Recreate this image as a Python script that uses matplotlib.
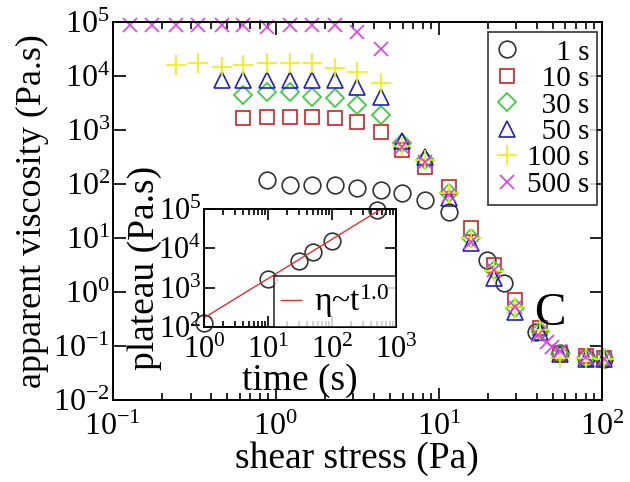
import matplotlib
matplotlib.use('Agg')
from matplotlib import pyplot as plt
import numpy as np

plt.rcParams['font.family'] = ['Liberation Serif', 'DejaVu Serif']
plt.rcParams['mathtext.fontset'] = 'custom'
plt.rcParams['mathtext.rm'] = 'Liberation Serif'
plt.rcParams['mathtext.it'] = 'Liberation Serif:italic'
plt.rcParams['mathtext.default'] = 'regular'

# shear stress (Pa) and apparent viscosity (Pa.s) for each waiting time
x_1s = [0.881, 1.22, 1.66, 2.31, 3.15, 4.41, 5.97, 8.27, 11.5, 19.9, 25.3, 39.3, 55.8, 79.6, 104]
y_1s = [119, 96, 96, 96, 83, 77, 68, 50.6, 30.3, 3.9, 1.47, 0.18, 0.075, 0.06, 0.058]

x_10s = [0.632, 0.881, 1.22, 1.66, 2.31, 3.15, 4.41, 5.97, 8.27, 11.5, 15.8, 22.0, 29.6, 42.1, 55.8, 79.6, 104]
y_10s = [1660, 1760, 1760, 1760, 1660, 1390, 931, 426, 210, 89, 15.3, 3.16, 0.7, 0.22, 0.075, 0.065, 0.06]

x_30s = [0.632, 0.881, 1.22, 1.66, 2.31, 3.15, 4.41, 5.97, 8.27, 11.5, 15.8, 22.0, 29.6, 42.1, 55.8, 79.6, 104]
y_30s = [4450, 5120, 5120, 4140, 3860, 2900, 1900, 570, 280, 68, 10, 2.55, 0.5, 0.19, 0.07, 0.06, 0.06]

x_50s = [0.466, 0.632, 0.881, 1.22, 1.66, 2.31, 3.15, 4.41, 5.97, 8.27, 11.5, 15.8, 22.0, 29.6, 42.1, 55.8, 79.6, 104]
y_50s = [8430, 8430, 8430, 8430, 8430, 8430, 6340, 4140, 620, 315, 55, 8, 1.8, 0.43, 0.18, 0.07, 0.058, 0.058]

x_100s = [0.244, 0.334, 0.466, 0.632, 0.881, 1.22, 1.66, 2.31, 3.15, 4.41, 5.97, 8.27, 11.5, 15.8, 22.0, 29.6, 42.1, 55.8, 79.6, 104]
y_100s = [16000, 17200, 14900, 16000, 17200, 17200, 17200, 13900, 12000, 7330, 500, 280, 68, 10, 2.5, 0.53, 0.2, 0.06, 0.06, 0.058]

x_500s = [0.127, 0.175, 0.244, 0.334, 0.466, 0.632, 0.881, 1.22, 1.66, 2.31, 3.15, 4.41, 5.97, 8.27,
          11.5, 15.8, 22.0, 29.6, 40.9, 46.5, 49.9, 55.8, 79.6, 104]
y_500s = [88000, 88000, 88000, 88000, 88000, 88000, 82000, 88000, 88000, 88000, 66000, 31600, 490, 260,
          62, 8.5, 2.55, 0.53, 0.16, 0.12, 0.096, 0.08, 0.062, 0.058]

# inset: plateau viscosity vs waiting time
t_wait = [1, 10, 30, 50, 100, 500]
plateau = [125, 1700, 4900, 8300, 15000, 94000]
fit_t = [1, 560]
fit_coef = 170

fig = plt.figure(figsize=(6.3, 4.82), dpi=100)
ax = fig.add_axes([0.179, 0.170, 0.776, 0.784])

series = [
    (x_1s, y_1s, 'o', '#333333', 'none', 12, '\u2007\u20071 s'),
    (x_10s, y_10s, 's', '#d02020', 'none', 10.5, '\u200710 s'),
    (x_30s, y_30s, 'D', '#30d030', 'none', 9, '\u200730 s'),
    (x_50s, y_50s, '^', '#2020c0', 'none', 11, '\u200750 s'),
    (x_100s, y_100s, '+', '#f0f000', None, 15, '100 s'),
    (x_500s, y_500s, 'x', '#e040e0', None, 10, '500 s'),
]
for xs, ys, m, c, fc, ms, lab in series:
    if fc is None:
        ax.plot(xs, ys, ls='none', marker=m, color=c, ms=ms, mew=1.2, label=lab, clip_on=False)
    else:
        ax.plot(xs, ys, ls='none', marker=m, mec=c, mfc=fc, ms=ms, mew=1.2, label=lab, clip_on=False)

ax.set_xscale('log')
ax.set_yscale('log')
ax.set_xlim(0.1, 100)
ax.set_ylim(1e-2, 1e5)
ax.set_xticks([0.1, 1, 10, 100])
ax.set_yticks([1e-2, 1e-1, 1, 10, 1e2, 1e3, 1e4, 1e5])
ax.tick_params(which='both', direction='in', top=True, right=True, labelsize=23, width=1.2)
ax.tick_params(which='major', length=9)
ax.tick_params(axis='x', which='major', pad=9)
ax.tick_params(axis='y', which='major', pad=2)
ax.tick_params(which='minor', length=5)
for s in ax.spines.values():
    s.set_linewidth(1.4)
ax.set_xlabel('shear stress (Pa)', fontsize=27, labelpad=0)
ax.set_ylabel('apparent viscosity (Pa.s)', fontsize=26, labelpad=3)

leg = ax.legend(loc='upper right', bbox_to_anchor=(0.99, 0.974), fontsize=21, frameon=True,
                fancybox=False, edgecolor='black', labelspacing=0.0, handletextpad=0.3,
                handlelength=0.8, borderpad=0.25, borderaxespad=0.0)
leg.get_frame().set_linewidth(1.2)

ax.text(48, 0.40, 'C', fontsize=34, ha='center', va='center')

# inset
ins = fig.add_axes([0.3238, 0.3216, 0.3048, 0.2448])
ins.plot(t_wait, plateau, ls='none', marker='o', mec='#333333', mfc='none', ms=12, mew=1.2, clip_on=False)
ft = np.array(fit_t, dtype=float)
ins.plot(ft, fit_coef * ft, color='#e03030', lw=1.0, label='\u03b7~t$^{1.0}$')
ins.set_xscale('log')
ins.set_yscale('log')
ins.set_xlim(1, 1000)
ins.set_ylim(1e2, 1e5)
ins.set_xticks([1, 10, 100, 1000])
ins.set_yticks([1e2, 1e3, 1e4, 1e5])
ins.tick_params(which='both', direction='in', top=True, right=True, labelsize=22, width=1.2)
ins.tick_params(which='major', length=8)
ins.tick_params(axis='x', which='major', pad=6)
ins.tick_params(axis='y', which='major', pad=2)
ins.tick_params(which='minor', length=4)
for s in ins.spines.values():
    s.set_linewidth(1.4)
ins.set_xlabel('time (s)', fontsize=27, labelpad=-1)
ins.set_ylabel('plateau (Pa.s)', fontsize=27, labelpad=-3)
ileg = ins.legend(loc='lower right', fontsize=24, frameon=True, fancybox=False, edgecolor='black',
                  handlelength=0.6, handletextpad=0.4, borderpad=0.2, borderaxespad=0.0)
ileg.get_frame().set_linewidth(1.2)

fig.savefig('out.png', dpi=100)
